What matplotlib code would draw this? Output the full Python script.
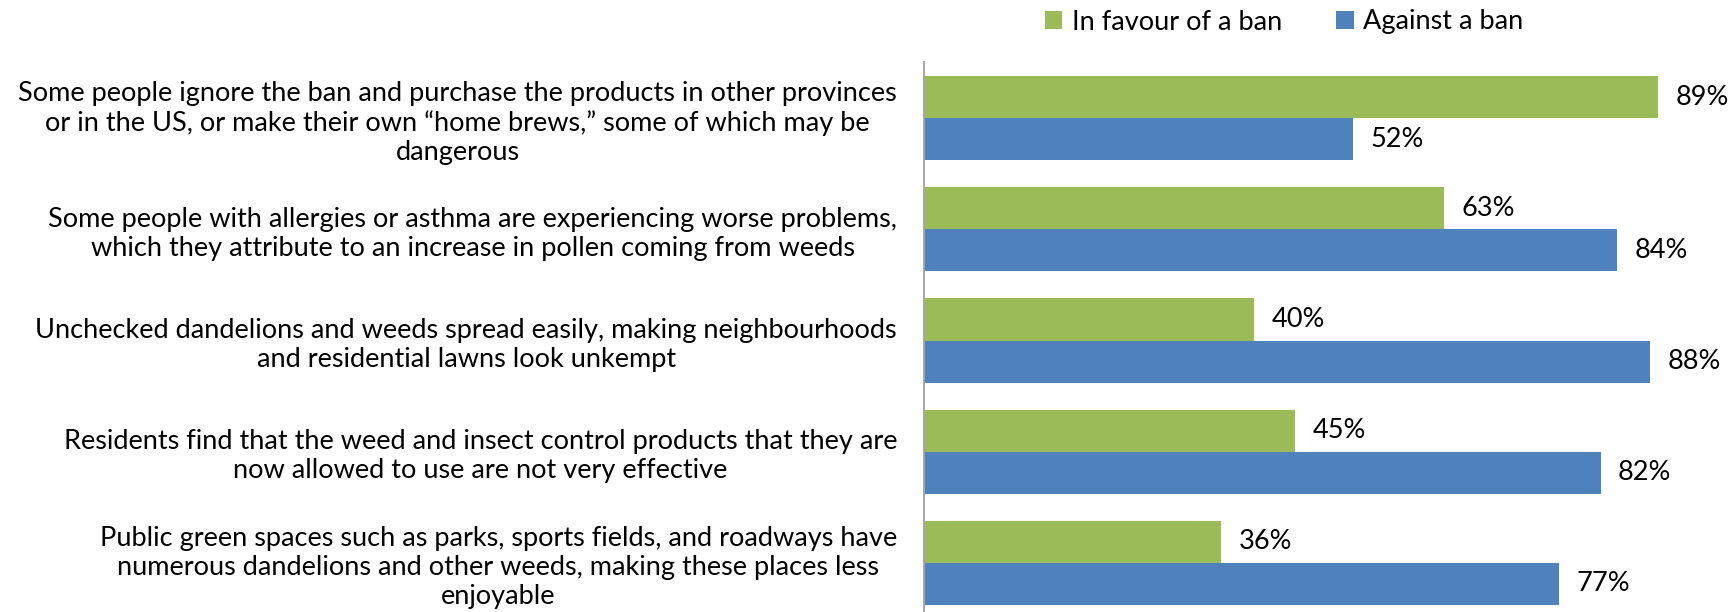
import matplotlib
matplotlib.use("Agg")
import matplotlib.pyplot as plt
from matplotlib.patches import Patch
import numpy as np

categories = [
    "Some people ignore the ban and purchase the products in other provinces\nor in the US, or make their own \u201chome brews,\u201d some of which may be\ndangerous",
    "Some people with allergies or asthma are experiencing worse problems,\nwhich they attribute to an increase in pollen coming from weeds",
    "Unchecked dandelions and weeds spread easily, making neighbourhoods\nand residential lawns look unkempt",
    "Residents find that the weed and insect control products that they are\nnow allowed to use are not very effective",
    "Public green spaces such as parks, sports fields, and roadways have\nnumerous dandelions and other weeds, making these places less\nenjoyable",
]
series_names = ["In favour of a ban", "Against a ban"]
in_favour = [89, 63, 40, 45, 36]
against = [52, 84, 88, 82, 77]

GREEN = "#9BBB59"
BLUE = "#4F81BD"
FONT = "Lato"
FS = 19.5

plt.rcParams['font.family'] = [FONT, 'DejaVu Sans']

fig = plt.figure(figsize=(17.28, 6.12), dpi=100)
W, H = 1728, 612
left = 924 / W
width = 825 / W
top = 62.5
bottom = 618.5
ax = fig.add_axes([left, 1 - bottom / H, width, (bottom - top) / H])

y = np.arange(len(categories))
bh = 0.378
b1 = ax.barh(y - bh / 2, in_favour, height=bh, color=GREEN, label=series_names[0])
b2 = ax.barh(y + bh / 2, against, height=bh, color=BLUE, label=series_names[1])

ax.set_xlim(0, 100)
ax.set_ylim(len(categories) - 0.5, -0.5)

for bars, vals in ((b1, in_favour), (b2, against)):
    for rect, v in zip(bars, vals):
        ax.annotate(f"{v}%", xy=(rect.get_width(), rect.get_y() + rect.get_height() / 2),
                    xytext=(12.5, 0), textcoords="offset points", va="center", ha="left",
                    fontsize=FS, color="black", annotation_clip=False)

ax.set_yticks(y)
ax.set_yticklabels(categories, fontsize=FS)
for t in ax.get_yticklabels():
    t.set_multialignment("center")
    t.set_linespacing(1.2)
ax.tick_params(axis="y", length=0, pad=19.4)
ax.set_xticks([])

for s in ("top", "right", "bottom"):
    ax.spines[s].set_visible(False)
ax.spines["left"].set_color("#A6A6A6")
ax.spines["left"].set_linewidth(1.4)

handles = [Patch(facecolor=GREEN), Patch(facecolor=BLUE)]
fig.legend(handles, series_names, loc="center left", bbox_to_anchor=(1034 / W, 1 - 22 / H),
           ncol=2, frameon=False, fontsize=FS, handlelength=0.65, handleheight=0.65,
           handletextpad=0.35, columnspacing=2.0, borderaxespad=0)

fig.savefig("out.png", dpi=100)
